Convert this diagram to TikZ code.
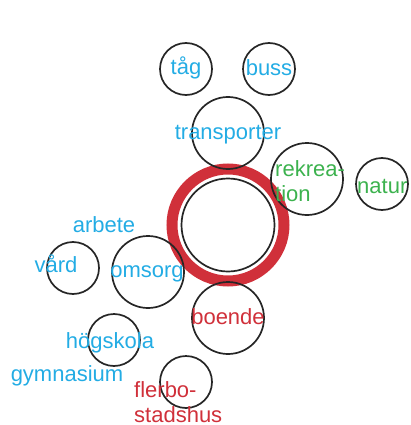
\documentclass[tikz,border=0pt]{standalone}
\usepackage{fontspec}
\setmainfont{Liberation Sans}
\definecolor{wordblue}{RGB}{35,172,228}
\definecolor{wordgreen}{RGB}{60,178,78}
\definecolor{ringred}{RGB}{208,48,58}

\begin{document}
\begin{tikzpicture}[x=1pt, y=-1pt,
    bubble/.style={circle, draw=black!85, line width=1.7pt, inner sep=0pt},
    smallbubble/.style={bubble, minimum size=52pt},
    bigbubble/.style={bubble, minimum size=72pt},
    word/.style={font=\fontsize{22}{25}\selectfont, inner sep=0pt, anchor=mid},
    blueword/.style={word, text=wordblue},
    greenword/.style={word, text=wordgreen},
    redword/.style={word, text=ringred}
]
    \useasboundingbox (0,0) rectangle (410,425);

    % Centre
    \node[circle, draw=ringred, line width=11pt, minimum size=112pt, inner sep=0pt] (ring) at (228,225) {};
    \node[bubble, minimum size=93pt] (core) at (228,225) {};

    % Circles
    \node[smallbubble] (tag) at (186,69) {};
    \node[smallbubble] (buss) at (269,69) {};
    \node[bigbubble] (transp) at (228,133) {};
    \node[bigbubble] (rekr) at (307,179) {};
    \node[smallbubble] (natur) at (382,184) {};
    \node[smallbubble] (vard) at (73,268) {};
    \node[bigbubble] (omsorg) at (148,272) {};
    \node[bigbubble] (boende) at (228,318) {};
    \node[smallbubble] (hogsk) at (114,340) {};
    \node[smallbubble] (flerbo) at (186,382) {};

    % Words
    \node[blueword] (tagw) at (186,72) {tåg};
    \node[blueword] (bussw) at (269,73) {buss};
    \node[blueword] (transpw) at (228,137) {transporter};
    \node[greenword, anchor=west, align=left] (rekrw) at (275,181) {rekrea-\\tion};
    \node[greenword, anchor=mid west] (naturw) at (357,191) {natur};
    \node[blueword] (arbw) at (104,230) {arbete};
    \node[blueword] (vardw) at (56,270) {vård};
    \node[blueword] (omsorgw) at (147,275) {omsorg};
    \node[redword] (boendew) at (228,322) {boende};
    \node[blueword] (hogskw) at (110,346) {högskola};
    \node[blueword] (gymw) at (67,379) {gymnasium};
    \node[redword, anchor=west, align=left] (flerbow) at (134,402) {flerbo-\\stadshus};
\end{tikzpicture}
\end{document}
